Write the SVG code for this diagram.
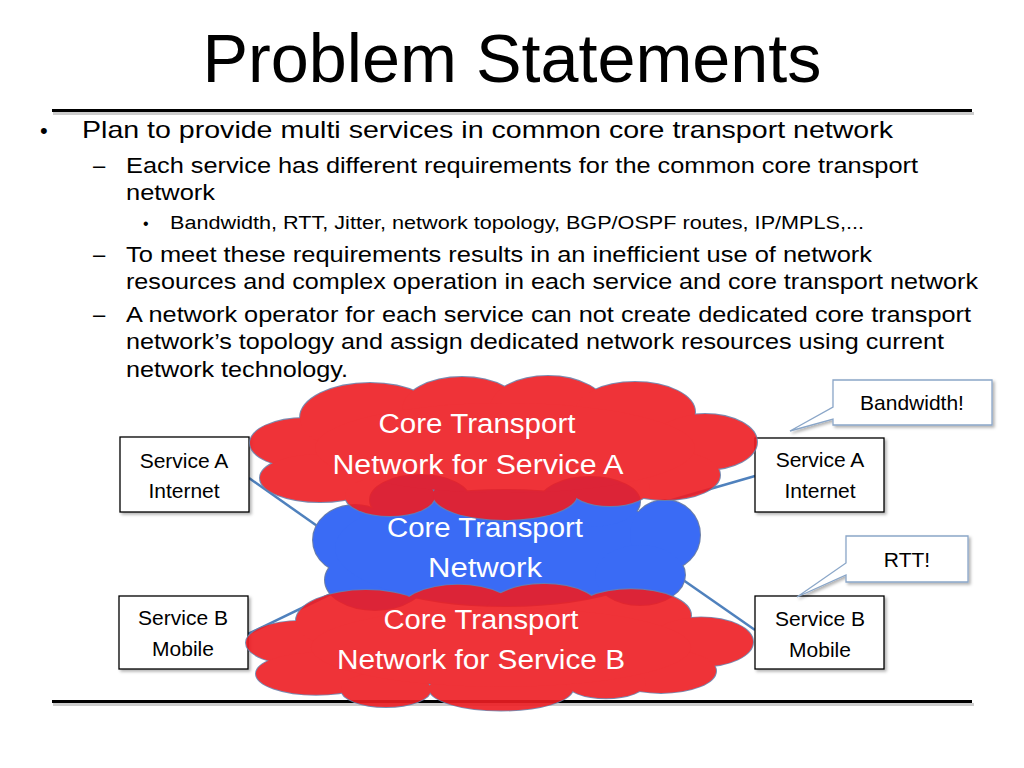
<svg xmlns="http://www.w3.org/2000/svg" width="1024" height="768" viewBox="0 0 1024 768">
<defs>
<style>
.t{font-family:"Liberation Sans",Arial,sans-serif;fill:#000}
.ct{font-family:"Liberation Sans",Arial,sans-serif;fill:#fff;font-size:27px;text-anchor:middle}
.bx{fill:#fff;stroke:#000;stroke-width:1.3}
.bt{font-family:"Liberation Sans",Arial,sans-serif;fill:#000;font-size:21px;text-anchor:middle}
.co{fill:#fff;stroke:#8aa6c8;stroke-width:1.3}
.ln{stroke:#4f81bd;stroke-width:2.5;fill:none}
.cs{stroke:#6c7fa8;stroke-width:2}
.rule{fill:#000}
.rsh{fill:#999;opacity:0.5}
</style>
<filter id="sh" x="-10%" y="-10%" width="130%" height="140%">
<feDropShadow dx="2" dy="2" stdDeviation="1.5" flood-color="#000" flood-opacity="0.3"/>
</filter>
<g id="cloudA">
<ellipse cx="305" cy="443" rx="55" ry="25"/>
<ellipse cx="320" cy="478" rx="60" ry="24"/>
<ellipse cx="370" cy="418" rx="70" ry="35"/>
<ellipse cx="462" cy="410" rx="60" ry="33"/>
<ellipse cx="548" cy="408" rx="58" ry="32"/>
<ellipse cx="635" cy="412" rx="60" ry="30"/>
<ellipse cx="705" cy="442" rx="52" ry="28"/>
<ellipse cx="665" cy="475" rx="55" ry="25"/>
<ellipse cx="390" cy="496" rx="45" ry="20"/>
<ellipse cx="505" cy="495" rx="72" ry="25"/>
<ellipse cx="610" cy="488" rx="40" ry="18"/>
<ellipse cx="505" cy="448" rx="190" ry="45"/>
</g>
<g id="cloudC">
<ellipse cx="355" cy="540" rx="42" ry="35"/>
<ellipse cx="375" cy="580" rx="50" ry="30"/>
<ellipse cx="505" cy="548" rx="170" ry="58"/>
<ellipse cx="665" cy="535" rx="35" ry="35"/>
<ellipse cx="640" cy="575" rx="45" ry="30"/>
<ellipse cx="420" cy="500" rx="50" ry="25"/>
<ellipse cx="590" cy="502" rx="50" ry="25"/>
</g>
</defs>
<rect width="1024" height="768" fill="#fff"/>

<text class="t" x="512" y="82" font-size="68" text-anchor="middle" textLength="619" lengthAdjust="spacingAndGlyphs">Problem Statements</text>
<rect class="rsh" x="53" y="112" width="921" height="3"/>
<rect class="rule" x="52" y="109" width="920" height="3"/>
<rect class="rsh" x="53" y="703" width="921" height="3"/>
<rect class="rule" x="52" y="700" width="920" height="3"/>

<g id="bullets">
<text class="t" x="40" y="138" font-size="22">•</text>
<text class="t" x="82" y="138" font-size="24" textLength="811" lengthAdjust="spacingAndGlyphs">Plan to provide multi services in common core transport network</text>
<text class="t" x="93" y="173" font-size="22">–</text>
<text class="t" x="126" y="173" font-size="22" textLength="792" lengthAdjust="spacingAndGlyphs">Each service has different requirements for the common core transport</text>
<text class="t" x="126" y="200" font-size="22" textLength="89" lengthAdjust="spacingAndGlyphs">network</text>
<text class="t" x="143" y="229" font-size="16">•</text>
<text class="t" x="170" y="229" font-size="18" textLength="694" lengthAdjust="spacingAndGlyphs">Bandwidth, RTT, Jitter, network topology, BGP/OSPF routes, IP/MPLS,...</text>
<text class="t" x="93" y="262" font-size="22">–</text>
<text class="t" x="126" y="262" font-size="22" textLength="746" lengthAdjust="spacingAndGlyphs">To meet these requirements results in an inefficient use of network</text>
<text class="t" x="126" y="289" font-size="22" textLength="852" lengthAdjust="spacingAndGlyphs">resources and complex operation in each service and core transport network</text>
<text class="t" x="93" y="322" font-size="22">–</text>
<text class="t" x="126" y="322" font-size="22" textLength="845" lengthAdjust="spacingAndGlyphs">A network operator for each service can not create dedicated core transport</text>
<text class="t" x="126" y="349" font-size="22" textLength="818" lengthAdjust="spacingAndGlyphs">network’s topology and assign dedicated network resources using current</text>
<text class="t" x="126" y="377" font-size="22" textLength="222" lengthAdjust="spacingAndGlyphs">network technology.</text>
</g>

<g id="connectors">
<line class="ln" x1="249" y1="478" x2="330" y2="535"/>
<line class="ln" x1="755" y1="476" x2="665" y2="502"/>
<line class="ln" x1="248" y1="634" x2="335" y2="592"/>
<line class="ln" x1="755" y1="630" x2="676" y2="575"/>
</g>

<g id="svcA-left">
<rect class="bx" x="120" y="437" width="129" height="75" filter="url(#sh)"/>
<text class="bt" x="184" y="468">Service A</text>
<text class="bt" x="184" y="498">Internet</text>
</g>
<g id="svcB-left">
<rect class="bx" x="119" y="596" width="129" height="73" filter="url(#sh)"/>
<text class="bt" x="183" y="625">Service B</text>
<text class="bt" x="183" y="656">Mobile</text>
</g>
<g id="svcA-right">
<rect class="bx" x="755" y="438" width="129" height="74" filter="url(#sh)"/>
<text class="bt" x="820" y="467">Service A</text>
<text class="bt" x="820" y="498">Internet</text>
</g>
<g id="svcB-right">
<rect class="bx" x="755" y="596" width="129" height="73" filter="url(#sh)"/>
<text class="bt" x="820" y="626">Service B</text>
<text class="bt" x="820" y="657">Mobile</text>
</g>

<g id="core-cloud">
<use href="#cloudC" class="cs"/>
<use href="#cloudC" fill="#3a6bf5"/>
<text class="ct" x="485" y="537" textLength="196" lengthAdjust="spacingAndGlyphs">Core Transport</text>
<text class="ct" x="485" y="577" textLength="114" lengthAdjust="spacingAndGlyphs">Network</text>
</g>

<g id="cloud-A">
<g opacity="0.9">
<use href="#cloudA" class="cs"/>
<use href="#cloudA" fill="#ee1d23"/>
</g>
<text class="ct" x="477" y="433" textLength="197" lengthAdjust="spacingAndGlyphs">Core Transport</text>
<text class="ct" x="478" y="474" textLength="291" lengthAdjust="spacingAndGlyphs">Network for Service A</text>
</g>

<g id="cloud-B">
<g opacity="0.9" transform="translate(-4,253) scale(1,0.88)">
<use href="#cloudA" class="cs"/>
<use href="#cloudA" fill="#ee1d23"/>
</g>
<text class="ct" x="481" y="629" textLength="195" lengthAdjust="spacingAndGlyphs">Core Transport</text>
<text class="ct" x="481" y="669" textLength="288" lengthAdjust="spacingAndGlyphs">Network for Service B</text>
</g>

<g id="callout-bandwidth">
<path class="co" d="M833,380 H992 V425 H833 V419 L790,431 L833,407 Z" filter="url(#sh)"/>
<text class="bt" x="912" y="410">Bandwidth!</text>
</g>
<g id="callout-rtt">
<path class="co" d="M846,536 H968 V582 H846 V575 L797,597 L846,563 Z" filter="url(#sh)"/>
<text class="bt" x="907" y="567">RTT!</text>
</g>
</svg>
